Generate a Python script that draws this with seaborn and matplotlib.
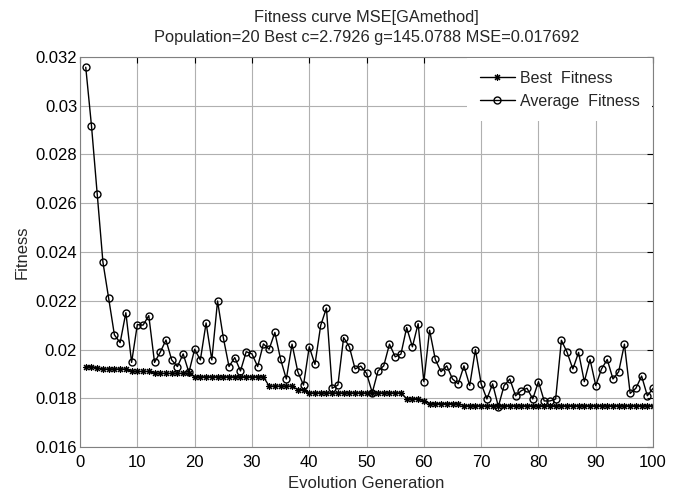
import numpy as np
import pandas as pd
import matplotlib
matplotlib.use("Agg")
import matplotlib.pyplot as plt
import seaborn as sns

generations = list(range(1, 101))

best_fitness = (
    [0.01930, 0.01930, 0.01925]
    + [0.01920] * 5          # 4-8
    + [0.01910] * 4          # 9-12
    + [0.01902] * 7          # 13-19
    + [0.01888] * 13         # 20-32
    + [0.01850] * 5          # 33-37
    + [0.01835] * 2          # 38-39
    + [0.01822] * 17         # 40-56
    + [0.01798] * 3          # 57-59
    + [0.01788]              # 60
    + [0.01778] * 6          # 61-66
    + [0.017692] * 34        # 67-100
)

average_fitness = [
    0.03158, 0.02918, 0.02638, 0.02358, 0.02210, 0.02060, 0.02028, 0.02151, 0.01947, 0.02102,
    0.02100, 0.02139, 0.01947, 0.01989, 0.02039, 0.01957, 0.01930, 0.01982, 0.01906, 0.02001,
    0.01957, 0.02109, 0.01957, 0.02199, 0.02049, 0.01930, 0.01967, 0.01912, 0.01991, 0.01982,
    0.01930, 0.02023, 0.02001, 0.02070, 0.01960, 0.01879, 0.02022, 0.01909, 0.01854, 0.02011,
    0.01939, 0.02099, 0.02170, 0.01841, 0.01854, 0.02049, 0.02011, 0.01920, 0.01932, 0.01902,
    0.01823, 0.01912, 0.01933, 0.02022, 0.01970, 0.01981, 0.02090, 0.02011, 0.02106, 0.01868,
    0.02079, 0.01959, 0.01909, 0.01933, 0.01879, 0.01859, 0.01933, 0.01852, 0.02000, 0.01859,
    0.01797, 0.01859, 0.01766, 0.01852, 0.01879, 0.01810, 0.01831, 0.01841, 0.01797, 0.01868,
    0.01789, 0.01789, 0.01797, 0.02038, 0.01988, 0.01920, 0.01988, 0.01868, 0.01959, 0.01852,
    0.01920, 0.01959, 0.01879, 0.01909, 0.02022, 0.01820, 0.01841, 0.01891, 0.01810, 0.01841,
]

title_lines = ["Fitness curve MSE[GAmethod]",
               "Population=20 Best c=2.7926 g=145.0788 MSE=0.017692"]
x_ticks = [0, 10, 20, 30, 40, 50, 60, 70, 80, 90, 100]
y_ticks = [0.016, 0.018, 0.02, 0.022, 0.024, 0.026, 0.028, 0.03, 0.032]
y_tick_labels = ["0.016", "0.018", "0.02", "0.022", "0.024", "0.026", "0.028", "0.03", "0.032"]

sns.set_style("whitegrid")
plt.rcParams['font.family'] = ['Liberation Sans', 'DejaVu Sans']

fig = plt.figure(figsize=(6.81, 4.93), dpi=100)
ax = fig.add_axes([0.1175, 0.0933, 0.8415, 0.7911])

df = pd.DataFrame({"gen": generations, "best": best_fitness, "avg": average_fitness})

asterisk = (8, 2, 0)
sns.lineplot(data=df, x="gen", y="best", ax=ax, color="black", linewidth=1.0,
             marker=asterisk, markersize=5, markeredgewidth=0.8,
             markeredgecolor="black", label="Best  Fitness")
sns.lineplot(data=df, x="gen", y="avg", ax=ax, color="black", linewidth=1.0,
             marker="o", markersize=5, markerfacecolor="none",
             markeredgecolor="black", markeredgewidth=1.0, label="Average  Fitness")

ax.set_xlim(0, 100)
ax.set_ylim(0.016, 0.032)
ax.set_xticks(x_ticks)
ax.set_xticklabels([str(t) for t in x_ticks])
ax.set_yticks(y_ticks)
ax.set_yticklabels(y_tick_labels)

ax.grid(True, color="#b0b0b0", linewidth=0.8, linestyle="-")
for s in ax.spines.values():
    s.set_color("#808080")
    s.set_linewidth(0.8)
    s.set_visible(True)
    s.set_zorder(5)
ax.tick_params(axis="both", direction="in", length=4, width=0.8, color="black",
               top=True, right=True, labelsize=12, labelcolor="black")
ax.tick_params(axis="x", pad=6)
ax.tick_params(axis="y", pad=2)

ax.set_xlabel("Evolution Generation", fontsize=12, labelpad=4)
ax.set_ylabel("Fitness", fontsize=12, labelpad=4)
ax.set_title("\n".join(title_lines), fontsize=11.8, linespacing=1.4, pad=11)

leg = ax.legend(loc="upper right", frameon=True, fontsize=11.5, handlelength=2.2,
                handletextpad=0.3, borderaxespad=0.05, borderpad=0.8, labelspacing=0.5,
                fancybox=False, framealpha=1.0)
leg.get_frame().set_edgecolor("white")
leg.get_frame().set_linewidth(0)

fig.savefig("out.png", dpi=100)
